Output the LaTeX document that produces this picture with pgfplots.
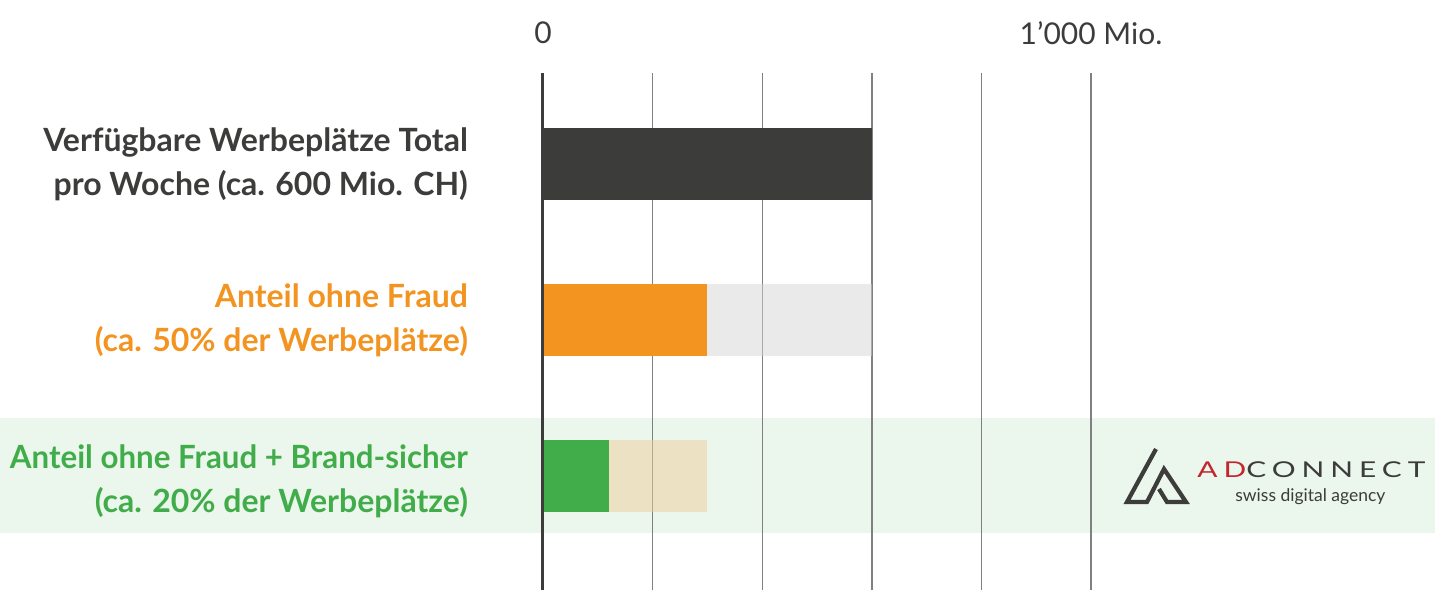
\documentclass[border=0pt]{standalone}
\usepackage{pgfplots}
\pgfplotsset{compat=1.18}
\usepackage{fontspec}
\setmainfont{Lato}
\newfontfamily\lblfont{Lato}
\newfontfamily\logofont[LetterSpace=20]{Lato}
\definecolor{dark}{HTML}{3C3C3B}
\definecolor{orangeC}{HTML}{F39320}
\definecolor{greenC}{HTML}{41AD4A}
\definecolor{bandC}{HTML}{EBF6EC}
\definecolor{grayBg}{HTML}{D5D5D5}
\definecolor{beige}{HTML}{EFCE9E}
\definecolor{gridC}{HTML}{808080}
\definecolor{adred}{HTML}{C1272D}
\newcommand{\twoline}[3]{\textcolor{#1}{\begin{tabular}{@{}r@{}}#2\\#3\end{tabular}}}
\begin{document}
\begin{tikzpicture}
\begin{scope}[x=0.5pt,y=-0.5pt,shift={(-543,-590)}]
  \fill[bandC] (0,418) rectangle (1435,533);
\end{scope}
\begin{axis}[
  at={(0,0)}, anchor=south west,
  scale only axis, width=446pt, height=258.5pt,
  xmin=0, xmax=1627.7, ymin=-0.7308, ymax=2.5833,
  axis line style={draw=none},
  xtick={0,200,400,600,800,1000},
  xticklabels={0,{},{},{},{},1’000 Mio.},
  xticklabel pos=upper,
  xmajorgrids, major grid style={gridC, line width=0.7pt},
  major tick length=0pt,
  xticklabel style={font=\fontsize{15}{17}\selectfont, text=dark, anchor=center, yshift=20pt},
  ytick={0,1,2},
  yticklabels={
    {\raisebox{-2.5pt}[\height][\depth]{\twoline{greenC}{\scalebox{0.977}[1]{Anteil ohne Fraud + Brand-sicher}}{(ca. 20\% der Werbeplätze)}}},
    {\twoline{orangeC}{Anteil ohne Fraud}{(ca. 50\% der Werbeplätze)}},
    {\twoline{dark}{Verfügbare Werbeplätze Total}{pro Woche (ca. 600 Mio. CH)}}},
  yticklabel style={anchor=east, xshift=-34pt, yshift=-0.5pt, font=\lblfont\bfseries\fontsize{16}{22}\selectfont},
  clip=false,
  xbar, bar width=0.4615, bar shift=0pt,
]
\addplot[fill=grayBg, fill opacity=0.5, draw=none] coordinates {(600,1)};
\addplot[fill=beige, fill opacity=0.5, draw=none] coordinates {(300,0)};
\addplot[fill=dark, draw=none] coordinates {(600,2)};
\addplot[fill=orangeC, draw=none] coordinates {(300,1)};
\addplot[fill=greenC, draw=none] coordinates {(120,0)};
\end{axis}
\begin{scope}[x=0.5pt,y=-0.5pt,shift={(-543,-590)}]
  \draw[dark, line width=1.5pt] (542.5,73) -- (542.5,590);
  \draw[dark, line width=2.1pt, line join=miter] (1156,449) -- (1127,502) -- (1147,502) -- (1164,469) -- (1186,502) -- (1167,502) -- (1159,489);
  \node[anchor=base west, inner sep=0pt] at (1197,477) {\resizebox{114pt}{7.9pt}{\logofont\textcolor{adred}{AD}\textcolor{dark}{CONNECT}}};
  \node[anchor=base west, inner sep=0pt, text=dark] at (1235,501) {\resizebox{75pt}{!}{swiss digital agency}};
\end{scope}
\pgfresetboundingbox
\path[use as bounding box] (-271.5pt,-0pt) rectangle (446pt,295pt);
\end{tikzpicture}
\end{document}
